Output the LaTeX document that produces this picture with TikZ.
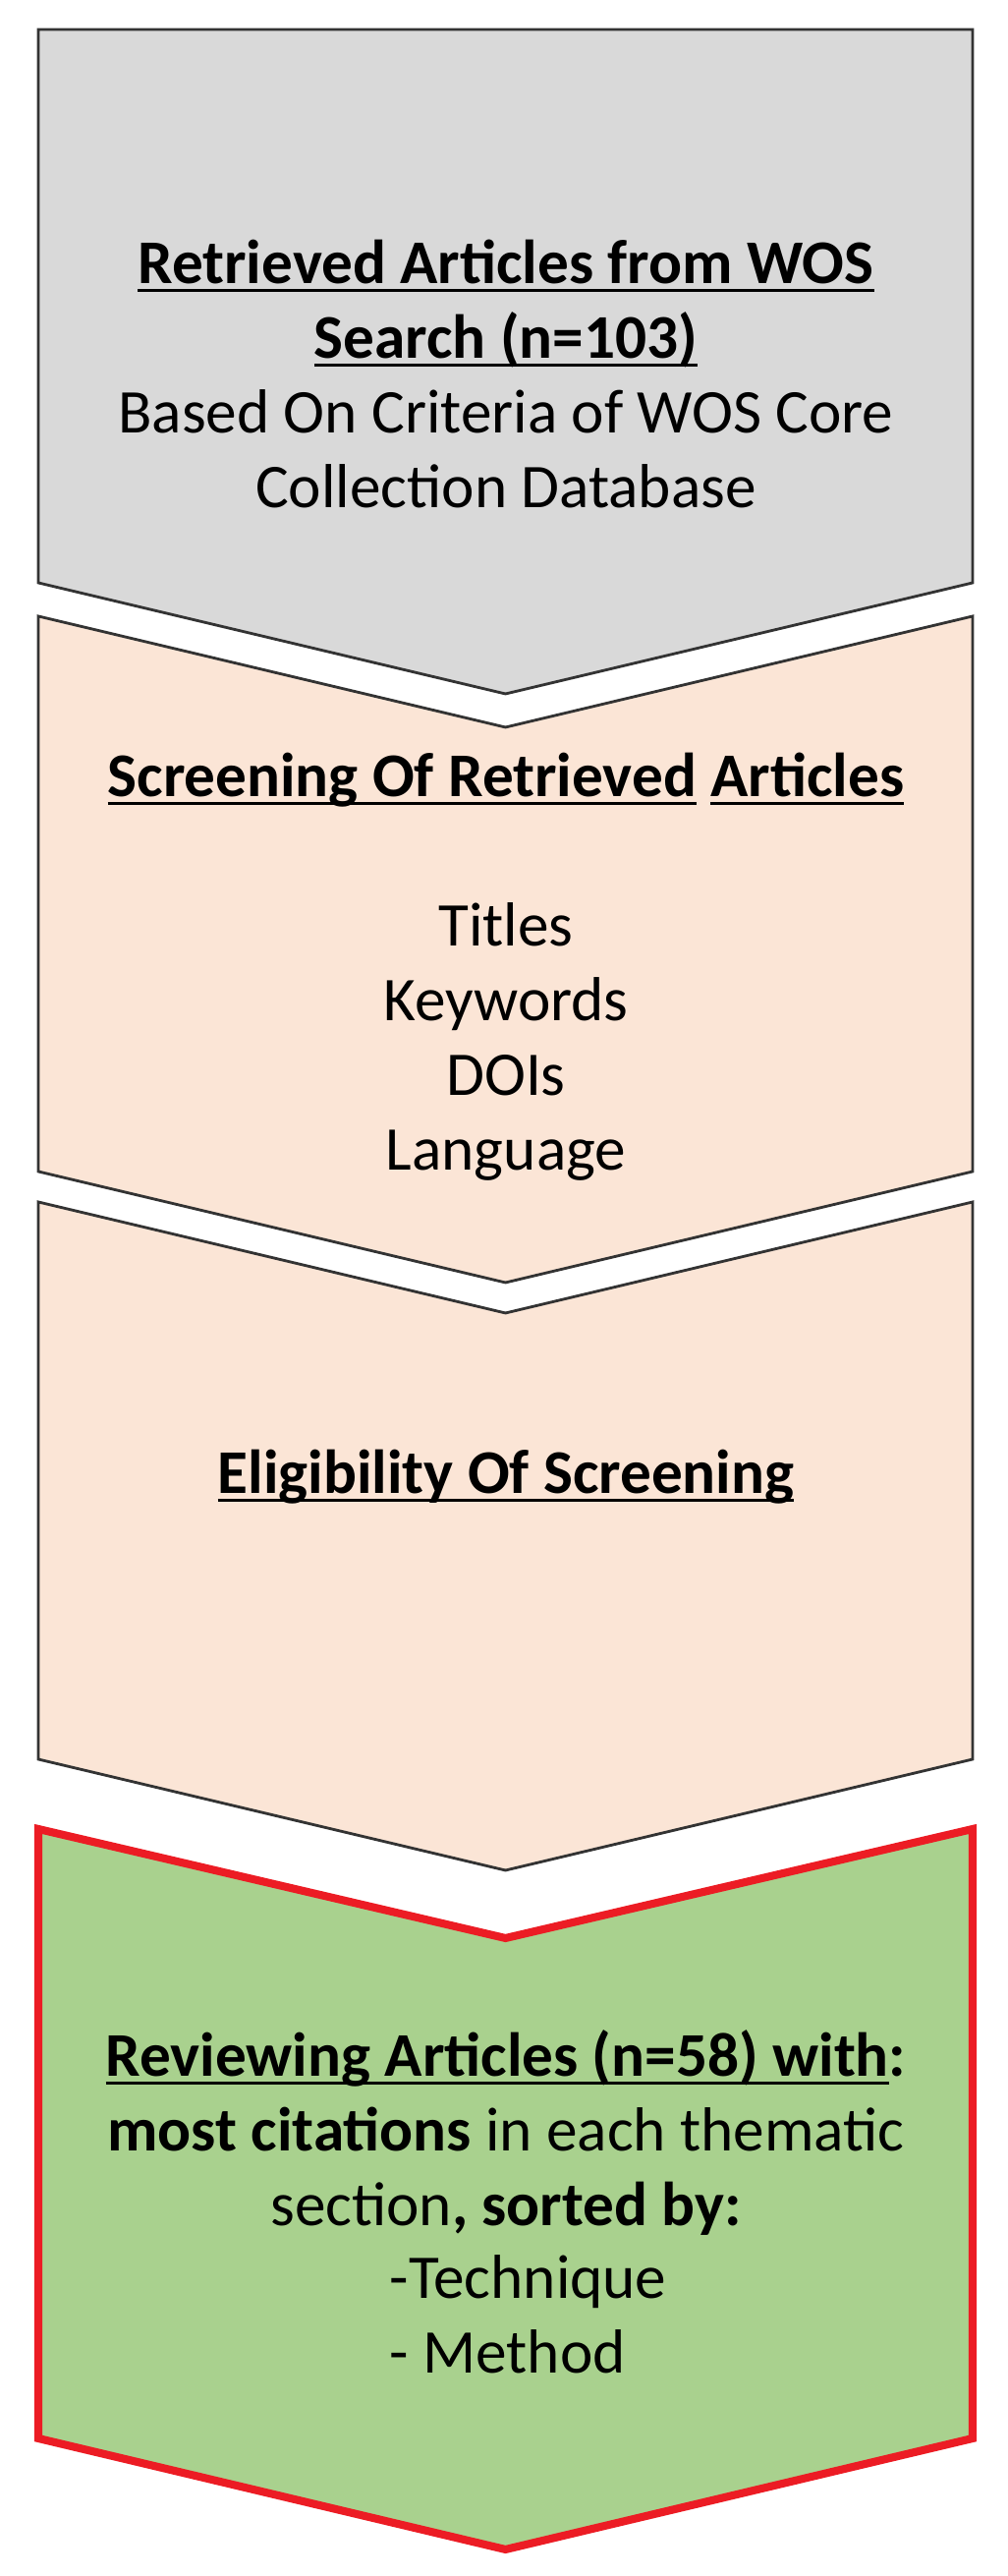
\documentclass[tikz,border=0pt]{standalone}
\usepackage{fontspec}
\setmainfont{Carlito}
\usepackage{xcolor}
\usepackage{tikz}
\usetikzlibrary{positioning}
\definecolor{greyfill}{HTML}{D9D9D9}
\definecolor{peachfill}{HTML}{FBE5D6}
\definecolor{greenfill}{HTML}{A9D18E}
\definecolor{redline}{HTML}{EC1C24}
\newcommand{\ulword}[1]{\setbox0\hbox{#1}\rlap{\rule[-0.13em]{\wd0}{0.05em}}\box0\relax}

\begin{document}
\begin{tikzpicture}[
  stage/.style={line width=0.8pt, draw=black!80, line join=miter},
  greystage/.style={stage, fill=greyfill},
  peachstage/.style={stage, fill=peachfill},
  greenstage/.style={draw=redline, line width=2.3pt, line join=miter, fill=greenfill},
  stagetext/.style={align=center, inner sep=0pt,
    font=\fontsize{18}{21.6}\selectfont},
]
\useasboundingbox (0,0) rectangle (10.26,26.21);

% ===== Stage 1: retrieval =====
\draw[greystage] (0.39,25.91) -- (9.90,25.91) -- (9.90,20.28)
  -- (5.145,19.15) -- (0.39,20.28) -- cycle;
\node[stagetext, anchor=north] (retrieved) at (5.15,23.86)
  {\strut\textbf{\ulword{Retrieved Articles from WOS}}\\
   \textbf{\ulword{Search (n=103)}}\\
   Based On Criteria of WOS Core\\
   Collection Database};

% ===== Stage 2: screening =====
\draw[peachstage] (0.39,19.94) -- (5.145,18.81) -- (9.90,19.94)
  -- (9.90,14.29) -- (5.145,13.16) -- (0.39,14.29) -- cycle;
\node[stagetext, anchor=north] (screening) at (5.15,18.64)
  {\strut\textbf{\ulword{Screening Of Retrieved} \ulword{Articles}}\\[21.6pt]
   Titles\\ Keywords\\ DOIs\\ Language};

% ===== Stage 3: eligibility =====
\draw[peachstage] (0.39,13.98) -- (5.145,12.85) -- (9.90,13.98)
  -- (9.90,8.31) -- (5.145,7.18) -- (0.39,8.31) -- cycle;
\node[stagetext, anchor=base] (eligibility) at (5.15,11.01)
  {\textbf{\ulword{Eligibility Of Screening}}};

% ===== Stage 4: review =====
\draw[greenstage] (0.39,7.60) -- (5.145,6.49) -- (9.90,7.60)
  -- (9.90,1.40) -- (5.145,0.27) -- (0.39,1.40) -- cycle;
\node[stagetext, anchor=north] (reviewing) at (5.15,5.62)
  {\strut\textbf{\ulword{Reviewing Articles (n=58) with}:}\\
   \textbf{most citations} in each thematic\\
   section\textbf{, sorted by:}};
\node[stagetext, align=left, anchor=north west] (sortkeys) at (3.96,3.36)
  {\strut-Technique\\ - Method};

\end{tikzpicture}
\end{document}
